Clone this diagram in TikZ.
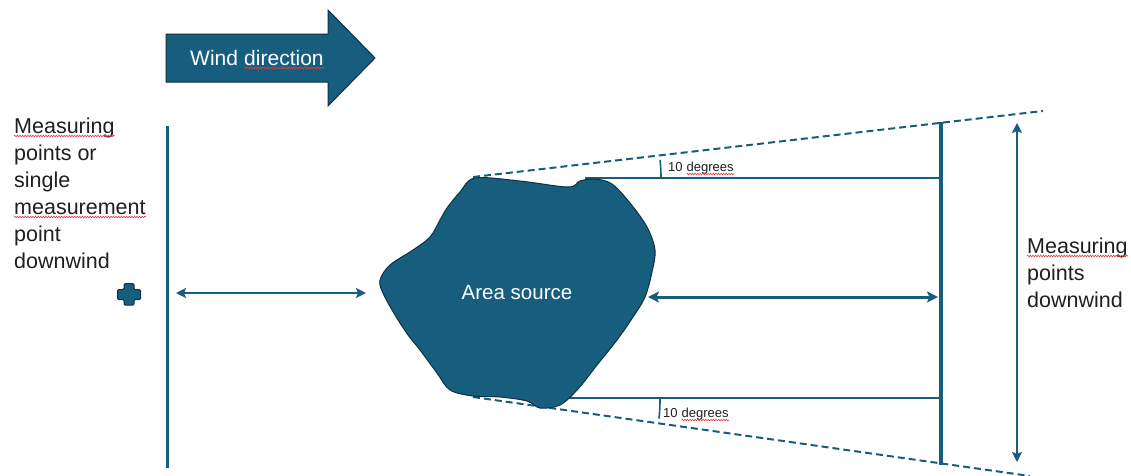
\documentclass[tikz,border=0pt]{standalone}
\usepackage{fontspec}
\setmainfont{Liberation Sans}
\usetikzlibrary{arrows.meta,decorations.pathmorphing}
\definecolor{srcblue}{RGB}{23,94,126}
\definecolor{edgeblue}{RGB}{14,48,66}
\definecolor{spellred}{RGB}{226,60,60}
\tikzset{
  txt/.style={inner sep=0pt, anchor=base west, text=black!88, font=\fontsize{21.5}{25}\selectfont},
  smalltxt/.style={inner sep=0pt, anchor=base west, text=black!88, font=\fontsize{13}{15}\selectfont},
  whitetxt/.style={inner sep=0pt, anchor=base west, text=white, font=\fontsize{21}{24}\selectfont},
  spell/.style={draw=spellred, line width=0.6pt, decorate,
    decoration={snake, amplitude=0.8pt, segment length=2.6pt}},
  bar/.style={draw=srcblue, line width=3pt},
  thickbar/.style={draw=srcblue, line width=4pt},
  thinline/.style={draw=srcblue, line width=1.3pt},
  sector/.style={draw=srcblue, line width=2pt, dash pattern=on 7pt off 4pt},
  dim/.style={draw=srcblue, line width=2pt,
    {Stealth[length=10pt,width=10pt,inset=2pt]}-{Stealth[length=10pt,width=10pt,inset=2pt]}},
  bigdim/.style={draw=srcblue, line width=3pt,
    {Stealth[length=11pt,width=11pt,inset=2.5pt]}-{Stealth[length=11pt,width=11pt,inset=2.5pt]}},
  solid shape/.style={fill=srcblue, draw=edgeblue, line width=1pt},
}
\newcommand{\spellmark}[1]{\draw[spell] ([yshift=-3pt]#1.base west) -- ([yshift=-3pt]#1.base east);}
\begin{document}
\begin{tikzpicture}[x=1pt,y=-1pt]
\useasboundingbox (0,0) rectangle (1131,475);

% wind direction arrow
\draw[solid shape] (166,34) -- (328,34) -- (328,10) -- (375,58) -- (328,106)
  -- (328,82) -- (166,82) -- cycle;
\node[whitetxt] (wind1) at (190,65) {Wind};
\node[whitetxt] (wind2) at ([xshift=5.8pt]wind1.base east) {direction};
\spellmark{wind2}

% left column of measuring points
\node[txt] (l1) at (14,133) {Measuring};
\node[txt] (l2) at (14,160) {points or};
\node[txt] (l3) at (14,187) {single};
\node[txt] (l4) at (14,214) {measurement};
\node[txt] (l5) at (14,241) {point};
\node[txt] (l6) at (14,268) {downwind};
\spellmark{l1}
\spellmark{l4}

% single measurement point
\draw[solid shape, rounded corners=1.2pt] (124,283.5) -- (134,283.5) -- (134,289.5) -- (140.5,289.5)
  -- (140.5,299.5) -- (134,299.5) -- (134,305) -- (124,305) -- (124,299.5) -- (117.5,299.5)
  -- (117.5,289.5) -- (124,289.5) -- cycle;

% upwind measuring line and distance
\coordinate (lt) at (167,126);
\coordinate (lb) at (167,468);
\draw[bar] (lt) -- (lb);
\coordinate (la1) at (176,293);
\coordinate (la2) at (366,293);
\draw[dim] (la1) -- (la2);

% downwind measuring line
\coordinate (rt) at (941,122);
\coordinate (rb) at (941,465);
\draw[thickbar] (rt) -- (rb);

% sector edges
\coordinate (st) at (473,177);
\coordinate (se) at (1043,111);
\coordinate (sb) at (473,397);
\coordinate (sf) at (1030,476);
\draw[sector] (st) -- (se);
\draw[sector] (sb) -- (sf);

% reference lines parallel to the wind
\coordinate (h1a) at (585,178);
\coordinate (h1b) at (941,178);
\coordinate (h2a) at (540,398);
\coordinate (h2b) at (941,398);
\draw[thinline] (h1a) -- (h1b);
\draw[thinline] (h2a) -- (h2b);

% angle marks
\draw[srcblue, line width=1.6pt] (661,178) arc[start angle=0, end angle=-5.5, radius=188];
\draw[srcblue, line width=1.6pt] (660,399) arc[start angle=0, end angle=6, radius=187];
\node[smalltxt] (a1) at (668,171) {10};
\node[smalltxt] (a2) at ([xshift=3.6pt]a1.base east) {degrees};
\node[smalltxt] (b1) at (663,417) {10};
\node[smalltxt] (b2) at ([xshift=3.6pt]b1.base east) {degrees};
\spellmark{a2}
\spellmark{b2}

% area source
\draw[solid shape] plot[smooth cycle, tension=0.55] coordinates {
  (475,178) (520,181) (568,187) (580,181) (595,179) (612,184) (630,203)
  (647,227) (655,250) (652,272) (645,297) (633,317) (617,340) (597,365)
  (578,389) (560,405) (540,408) (527,401) (500,397) (473,396) (450,390)
  (437,373) (420,350) (408,335) (395,315) (383,293) (380,280) (390,265)
  (413,250) (430,237) (440,220) (447,208) (460,192)};
\node[inner sep=0pt, text=white, font=\fontsize{20.5}{24}\selectfont] (src) at (517,293) {Area source};

% downwind distance and width
\coordinate (ma1) at (648,297);
\coordinate (ma2) at (938,297);
\draw[bigdim] (ma1) -- (ma2);
\coordinate (va1) at (1017,123);
\coordinate (va2) at (1017,462);
\draw[dim, line width=2.5pt] (va1) -- (va2);

% right labels
\node[txt] (r1) at (1027,253) {Measuring};
\node[txt] (r2) at (1027,280) {points};
\node[txt] (r3) at (1027,307) {downwind};
\spellmark{r1}
\end{tikzpicture}
\end{document}
